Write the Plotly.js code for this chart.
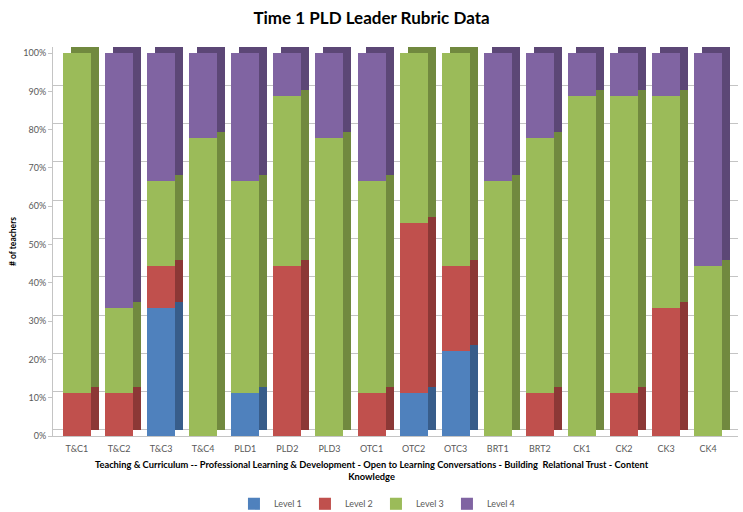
<!DOCTYPE html>
<html>
<head>
<meta charset="utf-8">
<script src="https://cdn.plot.ly/plotly-3.0.1.min.js"></script>
<style>html,body{margin:0;padding:0;background:#fff;}#chart{width:743px;height:512px;}</style>
</head>
<body>
<div id="chart"></div>
<script>
// Categories and counts of teachers (out of 9) per level
const categories = ["T&C1","T&C2","T&C3","T&C4","PLD1","PLD2","PLD3","OTC1","OTC2","OTC3","BRT1","BRT2","CK1","CK2","CK3","CK4"];
const level1 = [0,0,3,0,1,0,0,0,1,2,0,0,0,0,0,0];
const level2 = [1,1,1,0,0,4,0,1,4,2,0,1,0,1,3,0];
const level3 = [8,2,2,7,5,4,7,5,4,5,6,6,8,7,5,4];
const level4 = [0,6,3,2,3,1,2,3,0,0,3,2,1,1,1,5];
const seriesNames = ["Level 1","Level 2","Level 3","Level 4"];
const frontColors = ["#4F81BD","#C0504D","#9BBB59","#8064A2"];
const sideColors  = ["#385D8A","#8C3836","#71893F","#5C4776"];
const tickVals = [0,10,20,30,40,50,60,70,80,90,100];
const tickText = ["0%","10%","20%","30%","40%","50%","60%","70%","80%","90%","100%"];

const series = [level1, level2, level3, level4];
const W = 0.665;
const traces = [];
// depth (side/top faces) on back axes
series.forEach((vals, i) => {
  traces.push({
    type: 'bar', x: categories, y: vals, name: seriesNames[i],
    xaxis: 'x', yaxis: 'y', width: W,
    marker: {color: sideColors[i], line: {width: 0}},
    showlegend: false, hoverinfo: 'skip'
  });
});
// front faces on overlay axes
series.forEach((vals, i) => {
  traces.push({
    type: 'bar', x: categories, y: vals, name: seriesNames[i],
    xaxis: 'x2', yaxis: 'y2', width: W,
    marker: {color: frontColors[i], line: {width: 0}}
  });
});

const font = "Lato, 'Open Sans', sans-serif";
const layout = {
  width: 743, height: 512,
  margin: {l: 53, r: 5, t: 47, b: 76},
  paper_bgcolor: '#ffffff', plot_bgcolor: '#ffffff',
  barmode: 'stack', barnorm: 'percent',
  font: {family: font, color: '#595959', size: 9},
  title: {text: '<b>Time 1 PLD Leader Rubric Data</b>', x: 0.5, xanchor: 'center', y: 0.965, yanchor: 'middle',
          font: {family: font, size: 17, color: '#000000'}},
  xaxis: {type: 'category', range: [-0.76, 15.52], showticklabels: false, showgrid: false,
          zeroline: false, showline: false, automargin: false},
  yaxis: {range: [-1.6, 100], tickmode: 'array', tickvals: tickVals, showticklabels: false, showgrid: true,
          gridcolor: '#c4c4c4', gridwidth: 1, zeroline: false, showline: false, automargin: false},
  xaxis2: {type: 'category', overlaying: 'x', anchor: 'y2', range: [-0.57, 15.71], automargin: false,
           showgrid: false, zeroline: false, showline: true, linecolor: '#c4c4c4', linewidth: 1,
           ticks: 'outside', ticklen: 4, tickcolor: 'rgba(0,0,0,0)',
           tickfont: {family: font, size: 9, color: '#595959'}},
  yaxis2: {overlaying: 'y', anchor: 'x2', side: 'left', range: [0, 101.6], automargin: false,
           tickmode: 'array', tickvals: tickVals, ticktext: tickText,
           showgrid: false, zeroline: false, showline: true, linecolor: '#c4c4c4',
           ticks: 'outside', ticklen: 4, tickcolor: '#c4c4c4',
           tickfont: {family: font, size: 9, color: '#595959'},
           title: {text: '<b># of teachers</b>', font: {family: font, size: 8.5, color: '#000000'}, standoff: 5}},
  annotations: [{
    text: '<b>Teaching & Curriculum -- Professional Learning & Development - Open to Learning Conversations - Building  Relational Trust - Content<br>Knowledge</b>',
    xref: 'paper', yref: 'paper', x: 0.466, y: -0.054, xanchor: 'center', yanchor: 'top',
    showarrow: false, align: 'center', font: {family: font, size: 9.3, color: '#000000'}
  }],
  legend: {orientation: 'h', xref: 'container', yref: 'container', x: 0.506, xanchor: 'center',
           y: 0.016, yanchor: 'middle',
           font: {family: font, size: 9, color: '#595959'}, traceorder: 'normal',
           itemwidth: 30, entrywidth: 26},
  showlegend: true
};

Plotly.newPlot('chart', traces, layout, {displayModeBar: false, staticPlot: true});
</script>
</body>
</html>
